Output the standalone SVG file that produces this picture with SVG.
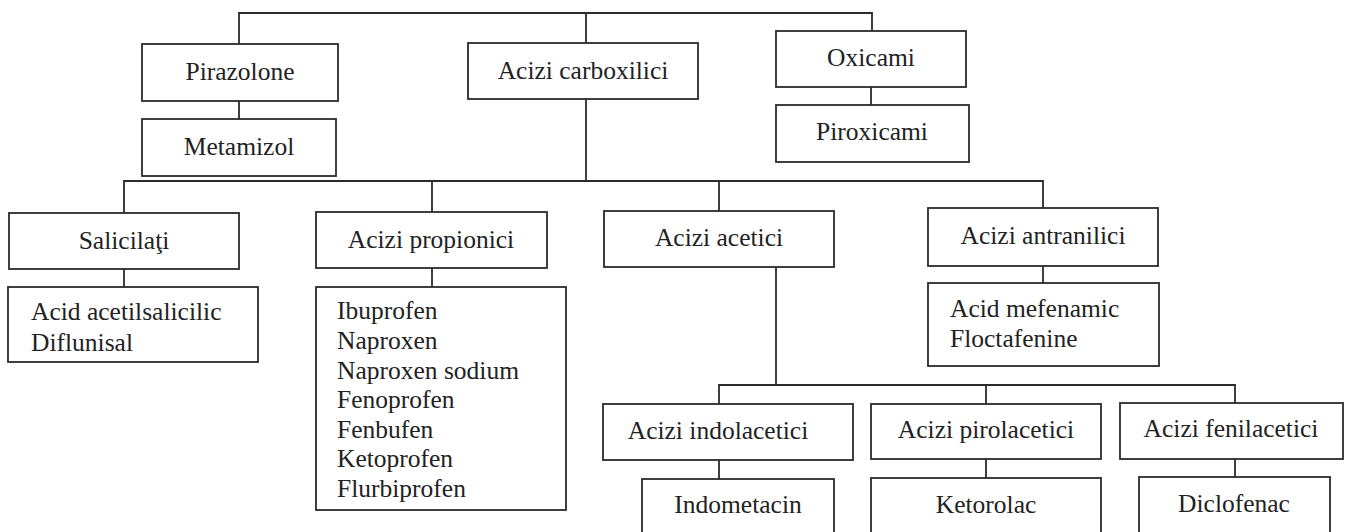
<svg xmlns="http://www.w3.org/2000/svg" width="1351" height="532" viewBox="0 0 1351 532">
<style>
rect{fill:#fff;stroke:#2b2b2b;stroke-width:1.8}
#connectors path{fill:none;stroke:#2b2b2b;stroke-width:1.8}
text{font-family:"Liberation Serif","Times New Roman",serif;font-size:25.5px;fill:#222}
.c{text-anchor:middle}
</style>
<rect x="0" y="0" width="1351" height="532" style="fill:#fff;stroke:none"/>
<g id="connectors">
<path d="M239,44V13H872V31M586,13V43"/>
<path d="M239,101V119"/>
<path d="M871,87V105"/>
<path d="M586,99V181"/>
<path d="M124,213V181H1043V208M432,181V212M719,181V211"/>
<path d="M124,269V287"/>
<path d="M432,268V287"/>
<path d="M776,267V385"/>
<path d="M1043,266V283"/>
<path d="M719,404V385H1235V403M986,385V404"/>
<path d="M719,460V479M986,459V478M1235,459V477"/>
</g>
<g id="pirazolone"><rect x="142" y="44" width="196" height="57"/><text class="c" x="240" y="80">Pirazolone</text></g>
<g id="metamizol"><rect x="142" y="119" width="194" height="57"/><text class="c" x="239" y="155">Metamizol</text></g>
<g id="acizi-carboxilici"><rect x="468" y="43" width="230" height="56"/><text class="c" x="583" y="79">Acizi carboxilici</text></g>
<g id="oxicami"><rect x="776" y="31" width="190" height="56"/><text class="c" x="871" y="66">Oxicami</text></g>
<g id="piroxicami"><rect x="776" y="105" width="193" height="57"/><text class="c" x="872" y="140">Piroxicami</text></g>
<g id="salicilati"><rect x="9" y="213" width="230" height="56"/><text class="c" x="124" y="249">Salicilaţi</text></g>
<g id="salicilati-list"><rect x="8" y="287" width="250" height="75"/><text x="31" y="320">Acid acetilsalicilic</text><text x="31" y="351">Diflunisal</text></g>
<g id="acizi-propionici"><rect x="316" y="212" width="231" height="56"/><text class="c" x="431" y="248">Acizi propionici</text></g>
<g id="propionici-list"><rect x="316" y="287" width="250" height="223"/>
<text x="337" y="319">Ibuprofen</text>
<text x="337" y="349">Naproxen</text>
<text x="337" y="379">Naproxen sodium</text>
<text x="337" y="408">Fenoprofen</text>
<text x="337" y="438">Fenbufen</text>
<text x="337" y="467">Ketoprofen</text>
<text x="337" y="497">Flurbiprofen</text></g>
<g id="acizi-acetici"><rect x="604" y="211" width="230" height="56"/><text class="c" x="719" y="246">Acizi acetici</text></g>
<g id="acizi-antranilici"><rect x="928" y="208" width="230" height="58"/><text class="c" x="1043" y="244">Acizi antranilici</text></g>
<g id="antranilici-list"><rect x="928" y="283" width="231" height="83"/><text x="950" y="317">Acid mefenamic</text><text x="950" y="347">Floctafenine</text></g>
<g id="acizi-indolacetici"><rect x="603" y="404" width="250" height="56"/><text class="c" x="718" y="439">Acizi indolacetici</text></g>
<g id="indometacin"><rect x="642" y="479" width="192" height="70"/><text class="c" x="738" y="513">Indometacin</text></g>
<g id="acizi-pirolacetici"><rect x="871" y="404" width="230" height="55"/><text class="c" x="986" y="438">Acizi pirolacetici</text></g>
<g id="ketorolac"><rect x="871" y="478" width="230" height="70"/><text class="c" x="986" y="513">Ketorolac</text></g>
<g id="acizi-fenilacetici"><rect x="1120" y="403" width="223" height="56"/><text class="c" x="1231" y="437">Acizi fenilacetici</text></g>
<g id="diclofenac"><rect x="1139" y="477" width="191" height="70"/><text class="c" x="1234" y="512">Diclofenac</text></g>
</svg>
